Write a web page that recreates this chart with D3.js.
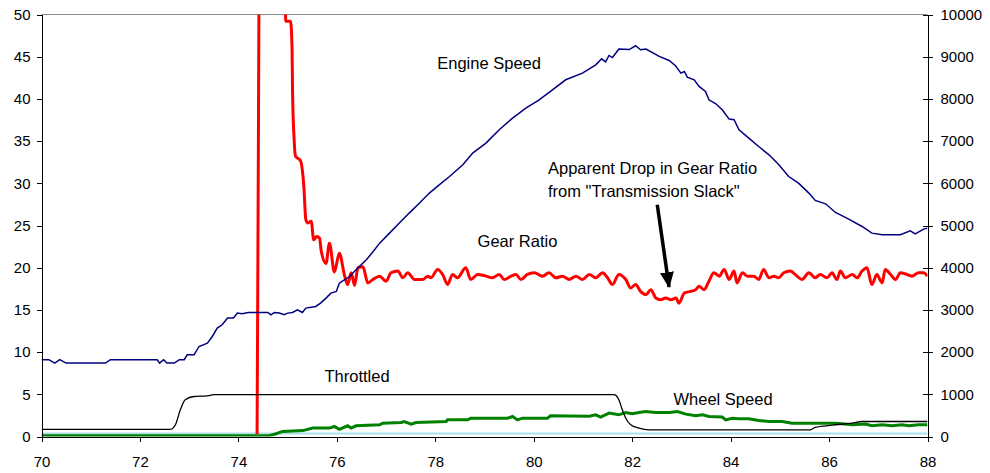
<!DOCTYPE html>
<html lang="en">
<head>
<meta charset="UTF-8">
<title>Gear Ratio</title>
<script src="https://d3js.org/d3.v7.min.js"></script>
<style>
	body { margin: 0; background: #fff; }
	text { font-family: 'Liberation Sans', Arial, Helvetica, sans-serif; fill: #000; }
	.axis text { font-size: 15px; }
	.axis path, .axis line { stroke: #000; stroke-width: 1; shape-rendering: crispEdges; }
	.note { font-size: 16.5px; }
</style>
</head>
<body>
<div id="chart"></div>
<script>
// time (s) and values
var xTicks = [70, 72, 74, 76, 78, 80, 82, 84, 86, 88];
var leftTicks = [0, 5, 10, 15, 20, 25, 30, 35, 40, 45, 50];
var rightTicks = [0, 1000, 2000, 3000, 4000, 5000, 6000, 7000, 8000, 9000, 10000];

// engine speed, rpm (right axis)
var engineSpeed = [
	[70.0,1820],[70.15,1820],[70.27,1740],[70.37,1820],[70.5,1740],[71.3,1740],[71.4,1820],
	[72.35,1820],[72.4,1740],[72.48,1820],[72.55,1740],[72.7,1740],[72.8,1820],[72.9,1820],
	[72.96,1936],[73.1,1936],[73.2,2133],[73.37,2213],[73.47,2370],[73.57,2568],[73.67,2647],
	[73.78,2806],[73.9,2806],[73.98,2924],[74.08,2910],[74.2,2938],[74.6,2938],[74.66,2884],
	[74.73,2938],[74.83,2924],[74.93,2884],[75.0,2924],[75.1,2938],[75.2,3002],[75.3,2938],
	[75.37,3042],[75.57,3081],[75.67,3160],[75.78,3279],[75.88,3397],[75.99,3436],[76.05,3634],
	[76.16,3720],[76.26,3791],[76.39,3950],[76.6,4187],[76.75,4400],[76.87,4582],[77.07,4819],
	[77.27,5057],[77.47,5294],[77.68,5531],[77.88,5768],[78.08,5964],[78.29,6161],[78.56,6438],
	[78.76,6715],[79.03,6953],[79.3,7268],[79.57,7545],[79.84,7782],[80.11,7979],[80.38,8216],
	[80.65,8453],[80.99,8611],[81.26,8808],[81.38,8950],[81.46,8880],[81.53,9030],[81.6,8980],
	[81.73,9180],[81.94,9170],[82.07,9259],[82.17,9164],[82.28,9180],[82.55,9006],[82.75,8911],
	[82.88,8785],[82.99,8611],[83.06,8650],[83.12,8517],[83.26,8453],[83.36,8295],[83.49,8176],
	[83.56,7979],[83.7,7885],[83.83,7742],[83.97,7521],[84.07,7505],[84.17,7268],[84.37,7071],
	[84.57,6872],[84.78,6675],[84.98,6438],[85.18,6161],[85.38,6003],[85.59,5768],[85.72,5593],
	[85.93,5514],[86.13,5309],[86.4,5152],[86.67,4977],[86.87,4819],[87.08,4780],[87.45,4780],
	[87.65,4875],[87.75,4803],[87.92,4915],[88.0,4938]
];

// gear ratio (left axis), 60 = off the top of the chart
var gearRatio = [
	[74.38,0.3],[74.40,26],[74.43,60],[74.95,60],[74.96,49.2],[75.06,49.2],[75.09,46],[75.10,41],
	[75.13,35.5],[75.16,33.2],[75.26,32.7],[75.33,29.6],[75.37,25.7],[75.41,25.3],[75.48,25.5],
	[75.53,23.3],[75.59,23.7],[75.65,23.5],[75.68,22.1],[75.78,20.5],[75.85,22.9],[75.95,19.5],
	[76.05,21.7],[76.16,19.0],[76.22,18.0],[76.29,19.4],[76.36,17.9],[76.43,20.0],[76.53,20.1],
	[76.63,18.2],[76.73,18.6],[76.87,19.0],[77.0,18.4],[77.1,19.4],[77.24,19.6],[77.34,18.8],
	[77.44,19.4],[77.58,18.6],[77.75,18.6],[77.85,19.0],[77.91,18.8],[78.05,19.8],[78.15,19.2],
	[78.25,18.0],[78.35,19.2],[78.45,18.8],[78.62,20.0],[78.72,18.6],[78.86,19.2],[79.03,19.0],
	[79.16,18.8],[79.3,19.2],[79.4,18.6],[79.54,19.0],[79.64,19.2],[79.74,18.6],[79.87,19.2],
	[80.01,19.4],[80.18,19.0],[80.31,19.4],[80.45,18.8],[80.58,19.0],[80.72,18.6],[80.86,19.0],
	[80.99,18.6],[81.13,19.2],[81.26,18.8],[81.4,19.4],[81.5,18.8],[81.6,18.0],[81.73,19.2],
	[81.87,18.6],[81.97,17.6],[82.07,18.0],[82.17,17.2],[82.28,16.8],[82.38,17.4],[82.48,16.4],
	[82.58,16.2],[82.68,16.4],[82.79,16.2],[82.89,16.4],[82.95,15.8],[83.06,17.0],[83.19,17.2],
	[83.29,17.4],[83.36,17.8],[83.46,17.4],[83.56,18.4],[83.66,19.4],[83.77,19.0],[83.87,19.8],
	[83.97,18.6],[84.07,19.6],[84.13,18.2],[84.24,19.4],[84.34,19.0],[84.47,19.0],[84.57,18.6],
	[84.67,19.8],[84.78,18.8],[84.88,19.0],[84.98,18.8],[85.08,19.4],[85.21,19.6],[85.35,19.0],
	[85.45,18.6],[85.59,19.4],[85.72,18.8],[85.82,19.2],[85.96,18.8],[86.06,19.4],[86.16,18.6],
	[86.23,19.6],[86.33,18.8],[86.47,19.2],[86.57,18.8],[86.67,19.6],[86.77,20.0],[86.87,18.0],
	[86.97,19.2],[87.08,18.2],[87.14,19.8],[87.25,19.2],[87.35,18.6],[87.45,19.4],[87.58,19.2],
	[87.68,19.0],[87.82,19.4],[87.92,19.4],[88.0,19.0]
];

// throttle position (left axis)
var throttle = [
	[70,0.85],[72.62,0.85],[72.72,1.39],[72.82,3.16],[72.92,4.35],[73.1,4.74],[73.37,4.82],
	[73.5,4.95],[81.63,4.95],[81.73,4.35],[81.8,3.16],[81.87,2.17],[81.97,1.39],[82.14,0.99],
	[82.34,0.79],[85.62,0.79],[85.72,1.07],[85.93,1.27],[86.13,1.39],[86.47,1.58],[86.67,1.78],
	[88,1.78]
];

// wheel speed (left axis)
var wheelSpeed = [
	[70,0.1],[74.63,0.1],[74.75,0.3],[74.9,0.6],[75.31,0.7],[75.51,1.0],[75.85,1.0],[75.95,1.19],
	[76.05,0.85],[76.22,1.27],[76.29,1.0],[76.39,1.27],[76.87,1.39],[76.93,1.58],[77.31,1.66],
	[77.37,1.78],[77.51,1.47],[77.61,1.66],[78.22,1.78],[78.25,1.97],[78.66,1.97],[78.72,2.17],
	[79.47,2.17],[79.57,2.37],[79.67,1.97],[79.77,2.17],[80.28,2.17],[80.34,2.45],[81.13,2.4],
	[81.26,2.57],[81.36,2.3],[81.53,2.77],[81.73,2.57],[81.87,2.85],[82.0,2.7],[82.14,2.85],
	[82.27,2.96],[82.48,2.85],[82.75,2.85],[82.92,2.96],[83.09,2.65],[83.29,2.45],[83.43,2.57],
	[83.56,2.37],[83.83,2.3],[83.9,1.97],[84.03,2.17],[84.17,2.1],[84.37,2.1],[84.57,1.9],
	[84.78,1.78],[85.05,1.78],[85.25,1.58],[85.86,1.58],[86.13,1.58],[86.26,1.5],[86.47,1.39],
	[86.74,1.47],[86.87,1.27],[87.08,1.39],[87.28,1.27],[87.48,1.39],[87.62,1.27],[87.82,1.39],
	[88.0,1.39]
];

// flat light line along the bottom
var baseLine = [[70,0.35],[88,0.35]];

// annotations in data units (left axis)
var notes = [
	{text: "Engine Speed", x: 78.04, y: 43.6},
	{text: "Gear Ratio", x: 78.86, y: 22.4},
	{text: "Apparent Drop in Gear Ratio", x: 80.29, y: 31.1},
	{text: "from \"Transmission Slack\"", x: 80.29, y: 28.4},
	{text: "Throttled", x: 75.75, y: 6.5},
	{text: "Wheel Speed", x: 82.84, y: 3.7}
];
var arrow = {x1: 82.51, y1: 27.45, x2: 82.75, y2: 17.7};

var W = 990, H = 473;
var pLeft = 41.5, pRight = 927.5, pTop = 14.5, pBottom = 436.5;

var x = d3.scaleLinear().domain([70, 88]).range([pLeft, pRight]);
var yL = d3.scaleLinear().domain([0, 50]).range([pBottom, pTop]);
var yR = d3.scaleLinear().domain([0, 10000]).range([pBottom, pTop]);

var svg = d3.select("#chart").append("svg")
	.attr("width", W)
	.attr("height", H)
	.style("background", "#fff");

var defs = svg.append("defs");
defs.append("clipPath").attr("id", "plot")
	.append("rect").attr("x", pLeft).attr("y", pTop).attr("width", pRight - pLeft).attr("height", pBottom - pTop);

// top border of the plot area
svg.append("line")
	.attr("x1", pLeft).attr("x2", pRight).attr("y1", pTop).attr("y2", pTop)
	.attr("stroke", "#8c8c8c").attr("stroke-width", 1.2);

var lineL = d3.line().x(function (d) { return x(d[0]); }).y(function (d) { return yL(d[1]); });
var lineR = d3.line().x(function (d) { return x(d[0]); }).y(function (d) { return yR(d[1]); });

var g = svg.append("g").attr("clip-path", "url(#plot)");

g.append("path").datum(baseLine)
	.attr("d", lineL).attr("fill", "none").attr("stroke", "#a8dfe8").attr("stroke-width", 2);

g.append("path").datum(gearRatio)
	.attr("d", lineL.curve(d3.curveMonotoneX)).attr("fill", "none")
	.attr("stroke", "#ff0000").attr("stroke-width", 3).attr("stroke-linejoin", "round");

g.append("path").datum(wheelSpeed)
	.attr("d", lineL.curve(d3.curveLinear)).attr("fill", "none").attr("stroke", "#008000").attr("stroke-width", 3);

g.append("path").datum(throttle)
	.attr("d", lineL.curve(d3.curveMonotoneX)).attr("fill", "none")
	.attr("stroke", "#000").attr("stroke-width", 1.3);

g.append("path").datum(engineSpeed)
	.attr("d", lineR).attr("fill", "none").attr("stroke", "#000080").attr("stroke-width", 1.5);

// axes
svg.append("g").attr("class", "axis")
	.attr("transform", "translate(" + pLeft + ",0)")
	.call(d3.axisLeft(yL).tickValues(leftTicks).tickSize(5).tickPadding(6).tickSizeOuter(0));

var axR = svg.append("g").attr("class", "axis")
	.attr("transform", "translate(" + pRight + ",0)")
	.call(d3.axisRight(yR).tickValues(rightTicks).tickFormat(d3.format("d"))
		.tickSize(5).tickPadding(8).tickSizeOuter(0));
axR.selectAll(".tick line").attr("x1", -5);

svg.append("g").attr("class", "axis")
	.attr("transform", "translate(0," + pBottom + ")")
	.call(d3.axisBottom(x).tickValues(xTicks).tickSize(5).tickPadding(15).tickSizeOuter(0));

// notes
svg.selectAll("text.note").data(notes).enter().append("text")
	.attr("class", "note")
	.attr("x", function (d) { return x(d.x); })
	.attr("y", function (d) { return yL(d.y); })
	.text(function (d) { return d.text; });

defs.append("marker")
	.attr("id", "head").attr("markerUnits", "userSpaceOnUse")
	.attr("viewBox", "0 0 16 16").attr("refX", 15).attr("refY", 8)
	.attr("markerWidth", 16).attr("markerHeight", 16).attr("orient", "auto")
	.append("path").attr("d", "M0,1 L16,8 L0,15 Z").attr("fill", "#000");

svg.append("line")
	.attr("x1", x(arrow.x1)).attr("y1", yL(arrow.y1))
	.attr("x2", x(arrow.x2)).attr("y2", yL(arrow.y2))
	.attr("stroke", "#000").attr("stroke-width", 3.5)
	.attr("marker-end", "url(#head)");
</script>
</body>
</html>
